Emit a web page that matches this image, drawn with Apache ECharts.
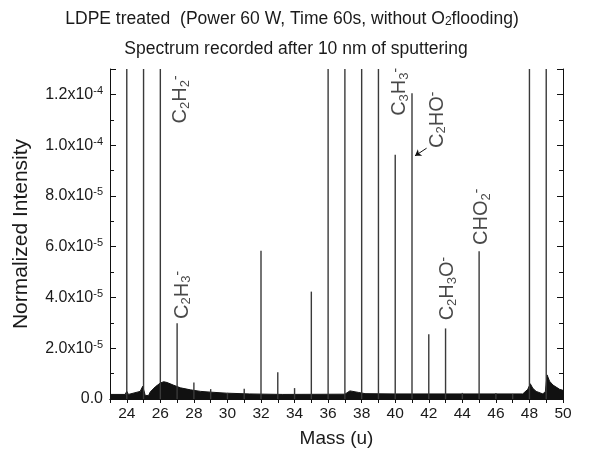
<!DOCTYPE html>
<html>
<head>
<meta charset="utf-8">
<script src="https://cdn.jsdelivr.net/npm/echarts@6/dist/echarts.min.js"></script>
<style>html,body{margin:0;padding:0;background:#fff}#c{width:595px;height:453px}</style>
</head>
<body>
<div id="c"></div>
<script>
// Peak positions (mass, u) and normalized intensities (off-scale peaks set to the axis top)
var peakMass = [24, 25, 26, 27, 28, 29, 30, 31, 32, 33, 34, 35, 36, 37, 38, 39, 40, 41, 42, 43, 44, 45, 46, 47, 48, 49];
var peakValue = [1.3e-4, 1.3e-4, 1.3e-4, 2.98e-5, 6.5e-6, 3.9e-6, 2.4e-6, 4.0e-6, 5.84e-5, 1.05e-5, 4.3e-6, 4.23e-5,
                 1.3e-4, 1.3e-4, 1.3e-4, 1.3e-4, 9.62e-5, 1.204e-4, 2.55e-5, 2.78e-5, 2.4e-6, 5.82e-5, 2.4e-6, 2.0e-6, 1.3e-4, 1.3e-4];
// Noise floor envelope (mass, upper edge)
var noiseMass  = [23.0, 23.9, 24.0, 24.1, 24.8, 24.95, 25.1, 25.3, 25.4, 25.7, 26.0, 26.2, 26.4, 26.8, 27.2, 27.8, 28.4, 29.0, 29.95, 31.3, 33.3, 37.0, 37.3, 37.8, 38.2, 40.0, 44.0, 47.6, 47.9, 48.05, 48.2, 48.4, 48.8, 48.95, 49.05, 49.2, 49.4, 49.8, 50.0];
var noiseValue = [1.8e-6, 1.8e-6, 3.0e-6, 1.8e-6, 3.0e-6, 5.0e-6, 1.4e-6, 1.4e-6, 2.8e-6, 4.8e-6, 6.3e-6, 6.8e-6, 6.5e-6, 5.4e-6, 4.4e-6, 3.6e-6, 3.0e-6, 2.7e-6, 2.3e-6, 2.0e-6, 1.8e-6, 1.9e-6, 3.2e-6, 2.6e-6, 2.1e-6, 2.0e-6, 2.0e-6, 2.0e-6, 3.8e-6, 6.0e-6, 4.2e-6, 3.0e-6, 2.0e-6, 3.0e-6, 9.5e-6, 7.0e-6, 5.5e-6, 3.8e-6, 3.4e-6];
// Ion annotations
var labelMass  = [27.2, 27.3, 40.28, 42.49, 43.14, 45.14];
var labelValue = [1.18e-4, 4.1e-5, 1.21e-4, 1.10e-4, 4.35e-5, 7.18e-5];
var labelText  = [
  '{b|C}{s|2}{b|H}{s|2}{p|-}',
  '{b|C}{s|2}{b|H}{s|3}{p|-}',
  '{b|C}{s|3}{b|H}{s|3}{p|-}',
  '{b|C}{s|2}{b|HO}{p|-}',
  '{b|C}{s|2}{b|H}{s|3}{b|O}{p|-}',
  '{b|CHO}{s|2}{p|-}'
];
var arrowFrom = [41.87, 9.88e-5];
var arrowTo = [41.18, 9.58e-5];
var xTicks = [24, 26, 28, 30, 32, 34, 36, 38, 40, 42, 44, 46, 48, 50];

var FONT = '"Liberation Sans", Arial, Helvetica, sans-serif';
var peaks = peakMass.map(function (m, i) { return [m, peakValue[i]]; });
var noise = noiseMass.map(function (m, i) { return [m, noiseValue[i]]; });
var labels = labelMass.map(function (m, i) { return { value: [m, labelValue[i]], name: labelText[i] }; });

function yFmt(v) {
  if (Math.abs(v) < 1e-12) return '{m|0.0}';
  var e = Math.floor(Math.log10(v) + 1e-9);
  var mant = v / Math.pow(10, e);
  return '{m|' + mant.toFixed(1) + 'x10}{e|' + e + '}';
}
var yRich = {
  m: { fontSize: 16, fontFamily: FONT, color: '#1a1a1a', lineHeight: 18 },
  e: { fontSize: 11, fontFamily: FONT, color: '#1a1a1a', lineHeight: 11, verticalAlign: 'top' }
};

var chart = echarts.init(document.getElementById('c'));
chart.setOption({
  animation: false,
  backgroundColor: '#fff',
  title: [
    { text: 'LDPE treated  (Power 60 W, Time 60s, without O{s|2}flooding)', left: 292, top: 10, textAlign: 'center', padding: 0,
      textStyle: { fontSize: 17.5, fontWeight: 'normal', fontFamily: FONT, color: '#1a1a1a',
        rich: { s: { fontSize: 12, fontFamily: FONT, color: '#1a1a1a', verticalAlign: 'bottom', lineHeight: 8 } } } },
    { text: 'Spectrum recorded after 10 nm of sputtering', left: 296, top: 40, textAlign: 'center', padding: 0,
      textStyle: { fontSize: 17.5, fontWeight: 'normal', fontFamily: FONT, color: '#1a1a1a' } }
  ],
  grid: { left: 110, right: 32, top: 69, bottom: 52 },
  xAxis: [
    { type: 'value', min: 23, max: 50, interval: 1, position: 'bottom',
      name: 'Mass (u)', nameLocation: 'middle', nameGap: 30,
      nameTextStyle: { fontSize: 19, fontFamily: FONT, color: '#1a1a1a' },
      axisLine: { lineStyle: { color: '#111', width: 1 } },
      axisTick: { inside: true, length: 4, lineStyle: { color: '#111' } },
      axisLabel: { margin: 7, fontSize: 15.5, fontFamily: FONT, color: '#1a1a1a',
        formatter: function (v) { return xTicks.indexOf(v) >= 0 ? String(v) : ''; } },
      splitLine: { show: false } },
    { type: 'value', min: 23, max: 50, interval: 1, position: 'top',
      axisLine: { lineStyle: { color: '#111', width: 1 } },
      axisTick: { inside: true, length: 4, lineStyle: { color: '#111' } },
      axisLabel: { show: false }, splitLine: { show: false } }
  ],
  yAxis: [
    { type: 'value', min: 0, max: 1.3e-4, interval: 2e-5, position: 'left',
      name: 'Normalized Intensity', nameLocation: 'middle', nameGap: 78,
      nameTextStyle: { fontSize: 21, fontFamily: FONT, color: '#1a1a1a' },
      axisLine: { show: true, lineStyle: { color: '#111', width: 1 } },
      axisTick: { show: true, inside: true, length: 6, lineStyle: { color: '#111' } },
      minorTick: { show: true, splitNumber: 2, length: 4, lineStyle: { color: '#111' } },
      axisLabel: { margin: 7, formatter: yFmt, rich: yRich, showMaxLabel: false },
      splitLine: { show: false } },
    { type: 'value', min: 0, max: 1.3e-4, interval: 2e-5, position: 'right',
      axisLine: { show: true, lineStyle: { color: '#111', width: 1 } },
      axisTick: { show: true, inside: true, length: 6, lineStyle: { color: '#111' } },
      minorTick: { show: true, splitNumber: 2, length: 4, lineStyle: { color: '#111' } },
      axisLabel: { show: false }, splitLine: { show: false } }
  ],
  series: [
    { type: 'line', data: noise, showSymbol: false, symbol: 'none', z: 2,
      lineStyle: { color: '#111', width: 1 }, areaStyle: { color: '#111', opacity: 1 } },
    { type: 'bar', data: peaks, barWidth: 1.4, z: 3,
      itemStyle: { color: '#3a3a3a' } },
    { type: 'scatter', data: labels, symbolSize: 0, z: 5, silent: true,
      label: { show: true, position: 'inside', rotate: 90, color: '#1a1a1a',
        formatter: function (p) { return p.name; },
        rich: {
          b: { fontSize: 20, fontFamily: FONT, color: '#1a1a1a', lineHeight: 22 },
          s: { fontSize: 13, fontFamily: FONT, color: '#1a1a1a', lineHeight: 12, verticalAlign: 'bottom' },
          p: { fontSize: 14, fontFamily: FONT, color: '#1a1a1a', lineHeight: 12, verticalAlign: 'top' }
        } },
      markLine: { silent: true, symbol: ['none', 'arrow'], symbolSize: 6, label: { show: false },
        lineStyle: { color: '#111', width: 1, type: 'solid' },
        data: [[{ coord: arrowFrom }, { coord: arrowTo }]] } }
  ]
});
</script>
</body>
</html>
